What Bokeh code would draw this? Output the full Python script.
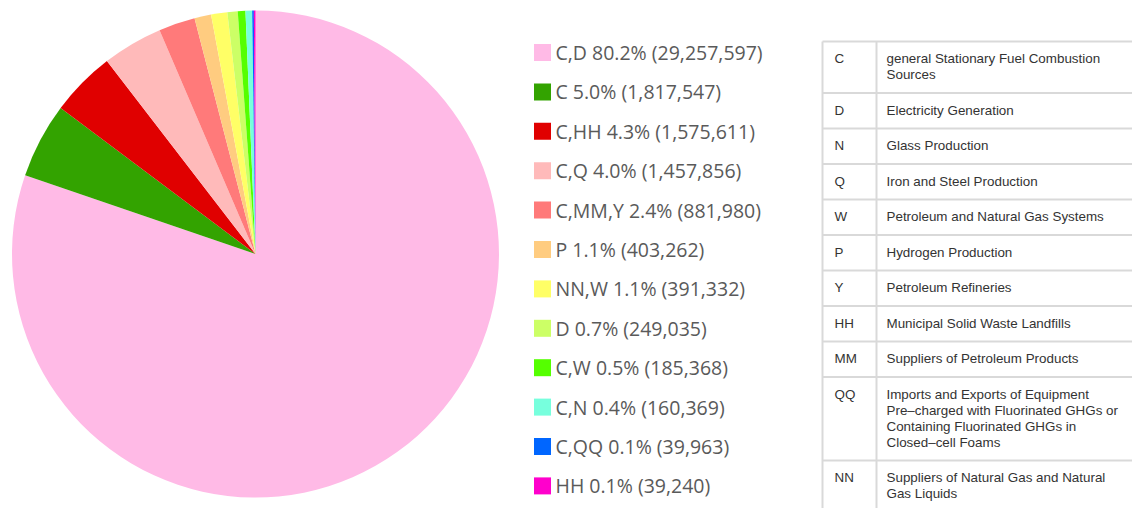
import math
from bokeh.plotting import figure
from bokeh.models import Range1d, ColumnDataSource
from bokeh.embed import file_html
from bokeh.resources import INLINE
from bokeh.core.properties import value

# ---- data ----
categories = ["C,D", "C", "C,HH", "C,Q", "C,MM,Y", "P", "NN,W", "D", "C,W", "C,N", "C,QQ", "HH"]
emissions = [29257597, 1817547, 1575611, 1457856, 881980, 403262, 391332, 249035, 185368, 160369, 39963, 39240]
colors = ["#ffbae6", "#33a300", "#e00000", "#ffbaba", "#ff7a7a", "#ffcc80", "#ffff66",
          "#ccff66", "#55ff00", "#77ffdd", "#0066ff", "#ff00cc"]

table_keys = ["C", "D", "N", "Q", "W", "P", "Y", "HH", "MM", "QQ", "NN"]
table_desc = [
    ["general Stationary Fuel Combustion", "Sources"],
    ["Electricity Generation"],
    ["Glass Production"],
    ["Iron and Steel Production"],
    ["Petroleum and Natural Gas Systems"],
    ["Hydrogen Production"],
    ["Petroleum Refineries"],
    ["Municipal Solid Waste Landfills"],
    ["Suppliers of Petroleum Products"],
    ["Imports and Exports of Equipment", "Pre\u2013charged with Fluorinated GHGs or",
     "Containing Fluorinated GHGs in", "Closed\u2013cell Foams"],
    ["Suppliers of Natural Gas and Natural", "Gas Liquids"],
]

# ---- layout (page pixel coordinates; y measured from top) ----
W, H = 1132, 508
def Y(py):
    return H - py

p = figure(width=W, height=H, output_backend="svg", toolbar_location=None,
           x_range=Range1d(0, W), y_range=Range1d(0, H),
           x_axis_location=None, y_axis_location=None, min_border=0)
p.grid.visible = False
p.outline_line_color = None
p.background_fill_color = "white"

# pie
total = float(sum(emissions))
fracs = [v / total for v in emissions]
starts, ends = [], []
acc = 0.0
for f in fracs:
    # clockwise from 12 o'clock
    ends.append(math.pi / 2 - acc * 2 * math.pi)
    acc += f
    starts.append(math.pi / 2 - acc * 2 * math.pi)
cx, cy, r = 255, Y(253.5), 243.5
pie_src = ColumnDataSource(dict(start=starts, end=ends, color=colors))
p.wedge(x=cx, y=cy, radius=r, start_angle="start", end_angle="end", direction="anticlock",
        fill_color="color", line_color=None, source=pie_src)

# legend
labels = ["%s %.1f%% (%s)" % (c, f * 100, format(v, ",")) for c, f, v in zip(categories, fracs, emissions)]
row0, step = 52, 39.4
lx = [542] * len(categories)
ly = [Y(row0 + i * step) for i in range(len(categories))]
leg_src = ColumnDataSource(dict(x=lx, y=ly, tx=[555] * len(categories), color=colors, label=labels))
p.scatter(x="x", y="y", marker="square", size=17, fill_color="color", line_color=None, source=leg_src)
p.text(x="tx", y="y", text="label", text_font=value("Open Sans"), text_font_size="19.5px",
       text_color="#5a5a5a", text_baseline="middle", source=leg_src)

# table
tx0, tx1, tx_right = 822, 876, 1132
top = 41
line_h = 16
ys = [top]
for d in table_desc:
    ys.append(ys[-1] + 19.5 + line_h * len(d))
# horizontal lines
p.segment(x0=[tx0] * len(ys), y0=[Y(v) for v in ys], x1=[tx_right] * len(ys), y1=[Y(v) for v in ys],
          line_color="#d9d9d9", line_width=2)
# vertical lines
p.segment(x0=[tx0, tx1], y0=[Y(top)] * 2, x1=[tx0, tx1], y1=[Y(520)] * 2,
          line_color="#d9d9d9", line_width=2)
kx, ky, dx, dy, dt = [], [], [], [], []
for i, (k, d) in enumerate(zip(table_keys, table_desc)):
    kx.append(834)
    ky.append(Y(ys[i] + 17))
    for j, line in enumerate(d):
        dx.append(886)
        dy.append(Y(ys[i] + 17 + j * line_h))
        dt.append(line)
p.text(x=kx, y=ky, text=table_keys, text_font=value("Liberation Sans"), text_font_size="13.4px",
       text_color="#333333", text_baseline="middle")
p.text(x=dx, y=dy, text=dt, text_font=value("Liberation Sans"), text_font_size="13.4px",
       text_color="#333333", text_baseline="middle")

open("out.html", "w").write(file_html(p, INLINE))
